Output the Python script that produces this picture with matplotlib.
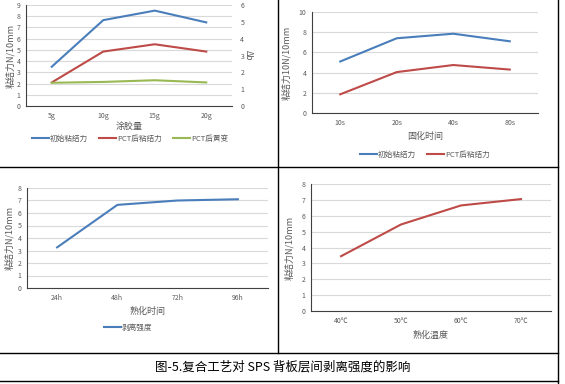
import matplotlib
matplotlib.use("Agg")
import matplotlib.pyplot as plt
from matplotlib.lines import Line2D

plt.rcParams['font.family'] = ['Noto Sans CJK SC', 'DejaVu Sans']

W, H = 565, 384

# data
glue = ['5g', '10g', '15g', '20g']
glue_init = [3.5, 7.65, 8.5, 7.45]
glue_pct = [2.1, 4.85, 5.5, 4.85]
glue_yellow = [1.38, 1.43, 1.53, 1.4]

cure = ['10s', '20s', '40s', '80s']
cure_init = [5.1, 7.4, 7.85, 7.1]
cure_pct = [1.85, 4.05, 4.75, 4.3]

age_time = ['24h', '48h', '72h', '96h']
age_peel = [3.25, 6.65, 7.0, 7.1]

age_temp = ['40℃', '50℃', '60℃', '70℃']
temp_peel = [3.45, 5.45, 6.65, 7.05]

BLUE = '#4a7ebb'
RED = '#be4b48'
GREEN = '#98b954'
TXT = '#595959'

fig = plt.figure(figsize=(W / 100, H / 100), dpi=100)


def ax_px(x0, y0, x1, y1):
    return fig.add_axes([x0 / W, 1 - y1 / H, (x1 - x0) / W, (y1 - y0) / H])


def style(ax, ymax, step):
    ax.set_ylim(0, ymax)
    ax.set_yticks(range(0, ymax + 1, step))
    ax.set_xlim(-0.5, 3.5)
    ax.grid(axis='y', color='#d9d9d9', lw=0.8)
    ax.set_axisbelow(True)
    for s in ['top', 'right']:
        ax.spines[s].set_visible(False)
    for s in ['left', 'bottom']:
        ax.spines[s].set_color('#404040')
        ax.spines[s].set_linewidth(0.8)
    ax.tick_params(length=0, labelsize=5, colors=TXT, pad=4)


def fline(x0, y0, x1, y1):
    fig.add_artist(Line2D([x0 / W, x1 / W], [1 - y0 / H, 1 - y1 / H],
                          color='black', lw=1.0, transform=fig.transFigure))


leg_kw = dict(frameon=False, fontsize=5.5, labelcolor=TXT, handlelength=2.2,
              columnspacing=1.4, handletextpad=0.2)

# panel 1
ax1 = ax_px(26, 5, 232, 106)
style(ax1, 9, 1)
ax1.plot(glue, glue_init, color=BLUE, lw=1.5, label='初始粘结力')
ax1.plot(glue, glue_pct, color=RED, lw=1.5, label='PCT后粘结力')
ax1b = ax1.twinx()
ax1b.set_ylim(0, 6)
ax1b.set_yticks(range(0, 7))
for s in ['top', 'right', 'left', 'bottom']:
    ax1b.spines[s].set_visible(False)
ax1b.tick_params(length=0, labelsize=5, colors=TXT, pad=6)
ax1b.plot(glue, glue_yellow, color=GREEN, lw=1.5, label='PCT后黄变')
ax1.set_xlabel('涂胶量', fontsize=6.5, color=TXT, labelpad=2)
ax1.set_ylabel('粘结力N/10mm', fontsize=6.5, color=TXT, labelpad=1)
ax1b.set_ylabel('Δb', fontsize=6, color=TXT, rotation=270, labelpad=6)
h1, l1 = ax1.get_legend_handles_labels()
h2, l2 = ax1b.get_legend_handles_labels()
fig.legend(h1 + h2, l1 + l2, loc='center', bbox_to_anchor=(130 / W, 1 - 139 / H),
           ncol=3, **leg_kw)

# panel 2
ax2 = ax_px(312, 12, 538, 113)
style(ax2, 10, 2)
ax2.plot(cure, cure_init, color=BLUE, lw=1.5, label='初始粘结力')
ax2.plot(cure, cure_pct, color=RED, lw=1.5, label='PCT后粘结力')
ax2.set_xlabel('固化时间', fontsize=6.5, color=TXT, labelpad=4)
ax2.set_ylabel('粘结力10N/10mm', fontsize=6.5, color=TXT, labelpad=5)
ax2.legend(loc='center', bbox_to_anchor=(0.5, 1 - (155 - 12) / 101), ncol=2,
           **leg_kw)

# panel 3
ax3 = ax_px(27, 188, 268, 288)
style(ax3, 8, 1)
ax3.plot(age_time, age_peel, color=BLUE, lw=1.5, label='剥离强度')
ax3.set_xlabel('熟化时间', fontsize=6.5, color=TXT, labelpad=4)
ax3.set_ylabel('粘结力N/10mm', fontsize=6.5, color=TXT, labelpad=2)
ax3.legend(loc='center', bbox_to_anchor=(0.42, 1 - (328 - 188) / 100),
           **leg_kw)

# panel 4
ax4 = ax_px(311, 184, 551, 311)
style(ax4, 8, 1)
ax4.plot(age_temp, temp_peel, color=RED, lw=1.5)
ax4.set_xlabel('熟化温度', fontsize=6.5, color=TXT, labelpad=4)
ax4.set_ylabel('粘结力N/10mm', fontsize=6.5, color=TXT, labelpad=5)

# table borders
fline(0, 167, 558, 167)
fline(278, 0, 278, 353)
fline(558, 0, 558, 384)
fline(0, 353, 558, 353)
fline(0, 381, 558, 381)

fig.text(283 / W, 1 - 367 / H, '图-5.复合工艺对 SPS 背板层间剥离强度的影响',
         ha='center', va='center', fontsize=9, color='black')

fig.savefig('out.png', dpi=100)
